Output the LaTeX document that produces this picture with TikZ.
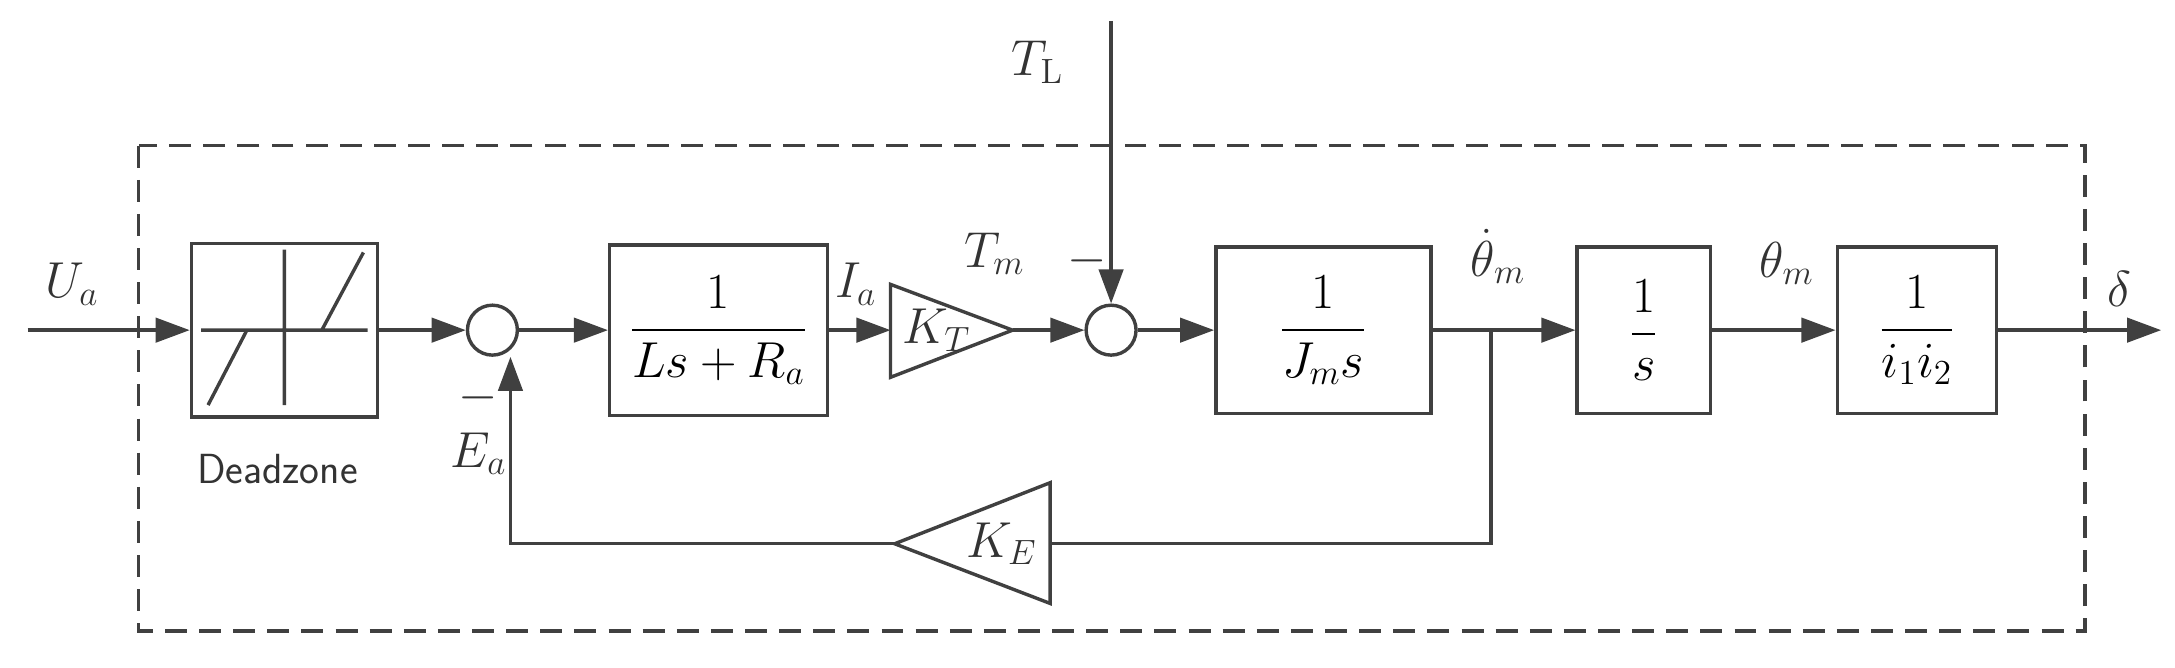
\documentclass[tikz,border=0pt]{standalone}
\usepackage{amsmath}
\usetikzlibrary{arrows.meta,shapes.geometric}
\begin{document}
\begin{tikzpicture}[x=0.02cm,y=-0.02cm,draw=black!75,line width=1.4pt,
  arr/.style={-{Triangle[length=14pt,width=10pt]}},
  blk/.style={draw=black!75,line width=1.4pt,rectangle,inner sep=0pt,font=\huge},
  sumn/.style={draw=black!75,line width=1.4pt,circle,minimum size=0.72cm,inner sep=0pt},
  lbl/.style={font=\huge,text=black!80}]
\useasboundingbox (0,0) rectangle (1568,481);
\draw[dash pattern=on 9pt off 5pt] (100,105) rectangle (1503,455);
% blocks
\node[blk,minimum width=134*0.02cm,minimum height=125*0.02cm] (dz) at (205,238) {};
\draw (145,238)--(265,238) (205,180)--(205,292) (150,292)--(178,238) (232,238)--(262,182);
\node[font=\sffamily\LARGE,text=black!80] (dzl) at (200,338) {Deadzone};
\node[blk,minimum width=157*0.02cm,minimum height=123*0.02cm] (b1) at (518,238) {$\dfrac{1}{Ls+R_a}$};
\node[blk,minimum width=155*0.02cm,minimum height=120*0.02cm] (b2) at (954,238) {$\dfrac{1}{J_m s}$};
\node[blk,minimum width=96*0.02cm,minimum height=120*0.02cm] (b3) at (1185,238) {$\dfrac{1}{s}$};
\node[blk,minimum width=115*0.02cm,minimum height=120*0.02cm] (b4) at (1382,238) {$\dfrac{1}{i_1 i_2}$};
\node[sumn] (s1) at (355,238) {};
\node[sumn] (s2) at (801,238) {};
% triangles
\draw (642,205)--(730,238)--(642,272)--cycle;
\coordinate (kt) at (642,238); \coordinate (kto) at (730,238);
\node[lbl] (ktl) at (675,238) {$K_T$};
\draw (757,348)--(645,392)--(757,435)--cycle;
\coordinate (ke) at (757,392); \coordinate (keo) at (645,392);
\node[lbl] (kel) at (722,392) {$K_E$};
% coordinates
\coordinate (in) at (20,238);
\coordinate (tl) at (801,15);
\coordinate (br) at (1075,238);
\coordinate (bd) at (1075,392);
\coordinate (fc) at (368,392);
\coordinate (out) at (1558,238);
% connectors
\draw[arr] (in)--(dz.west);
\draw[arr] (dz.east)--(s1.west);
\draw[arr] (s1.east)--(b1.west);
\draw[arr] (b1.east|-kt)--(kt);
\draw[arr] (kto)--(s2.west);
\draw[arr] (tl)--(s2.north);
\draw[arr] (s2.east)--(b2.west);
\draw[arr] (b2.east)--(b3.west);
\draw[arr] (b3.east)--(b4.west);
\draw[arr] (b4.east)--(out);
\draw (br)--(bd)--(ke);
\draw[arr] (keo)--(fc)--(fc|-s1.south);
% labels
\node[lbl] at (52,205) {$U_a$};
\node[lbl] at (617,205) {$I_a$};
\node[lbl] at (717,183) {$T_m$};
\node[lbl] at (748,45) {$T_{\mathrm{L}}$};
\node[lbl] at (784,188) {$-$};
\node[lbl] at (345,287) {$-$};
\node[lbl] at (345,327) {$E_a$};
\node[lbl] at (1080,185) {$\dot\theta_m$};
\node[lbl] at (1288,190) {$\theta_m$};
\node[lbl] at (1528,208) {$\delta$};
\end{tikzpicture}
\end{document}
